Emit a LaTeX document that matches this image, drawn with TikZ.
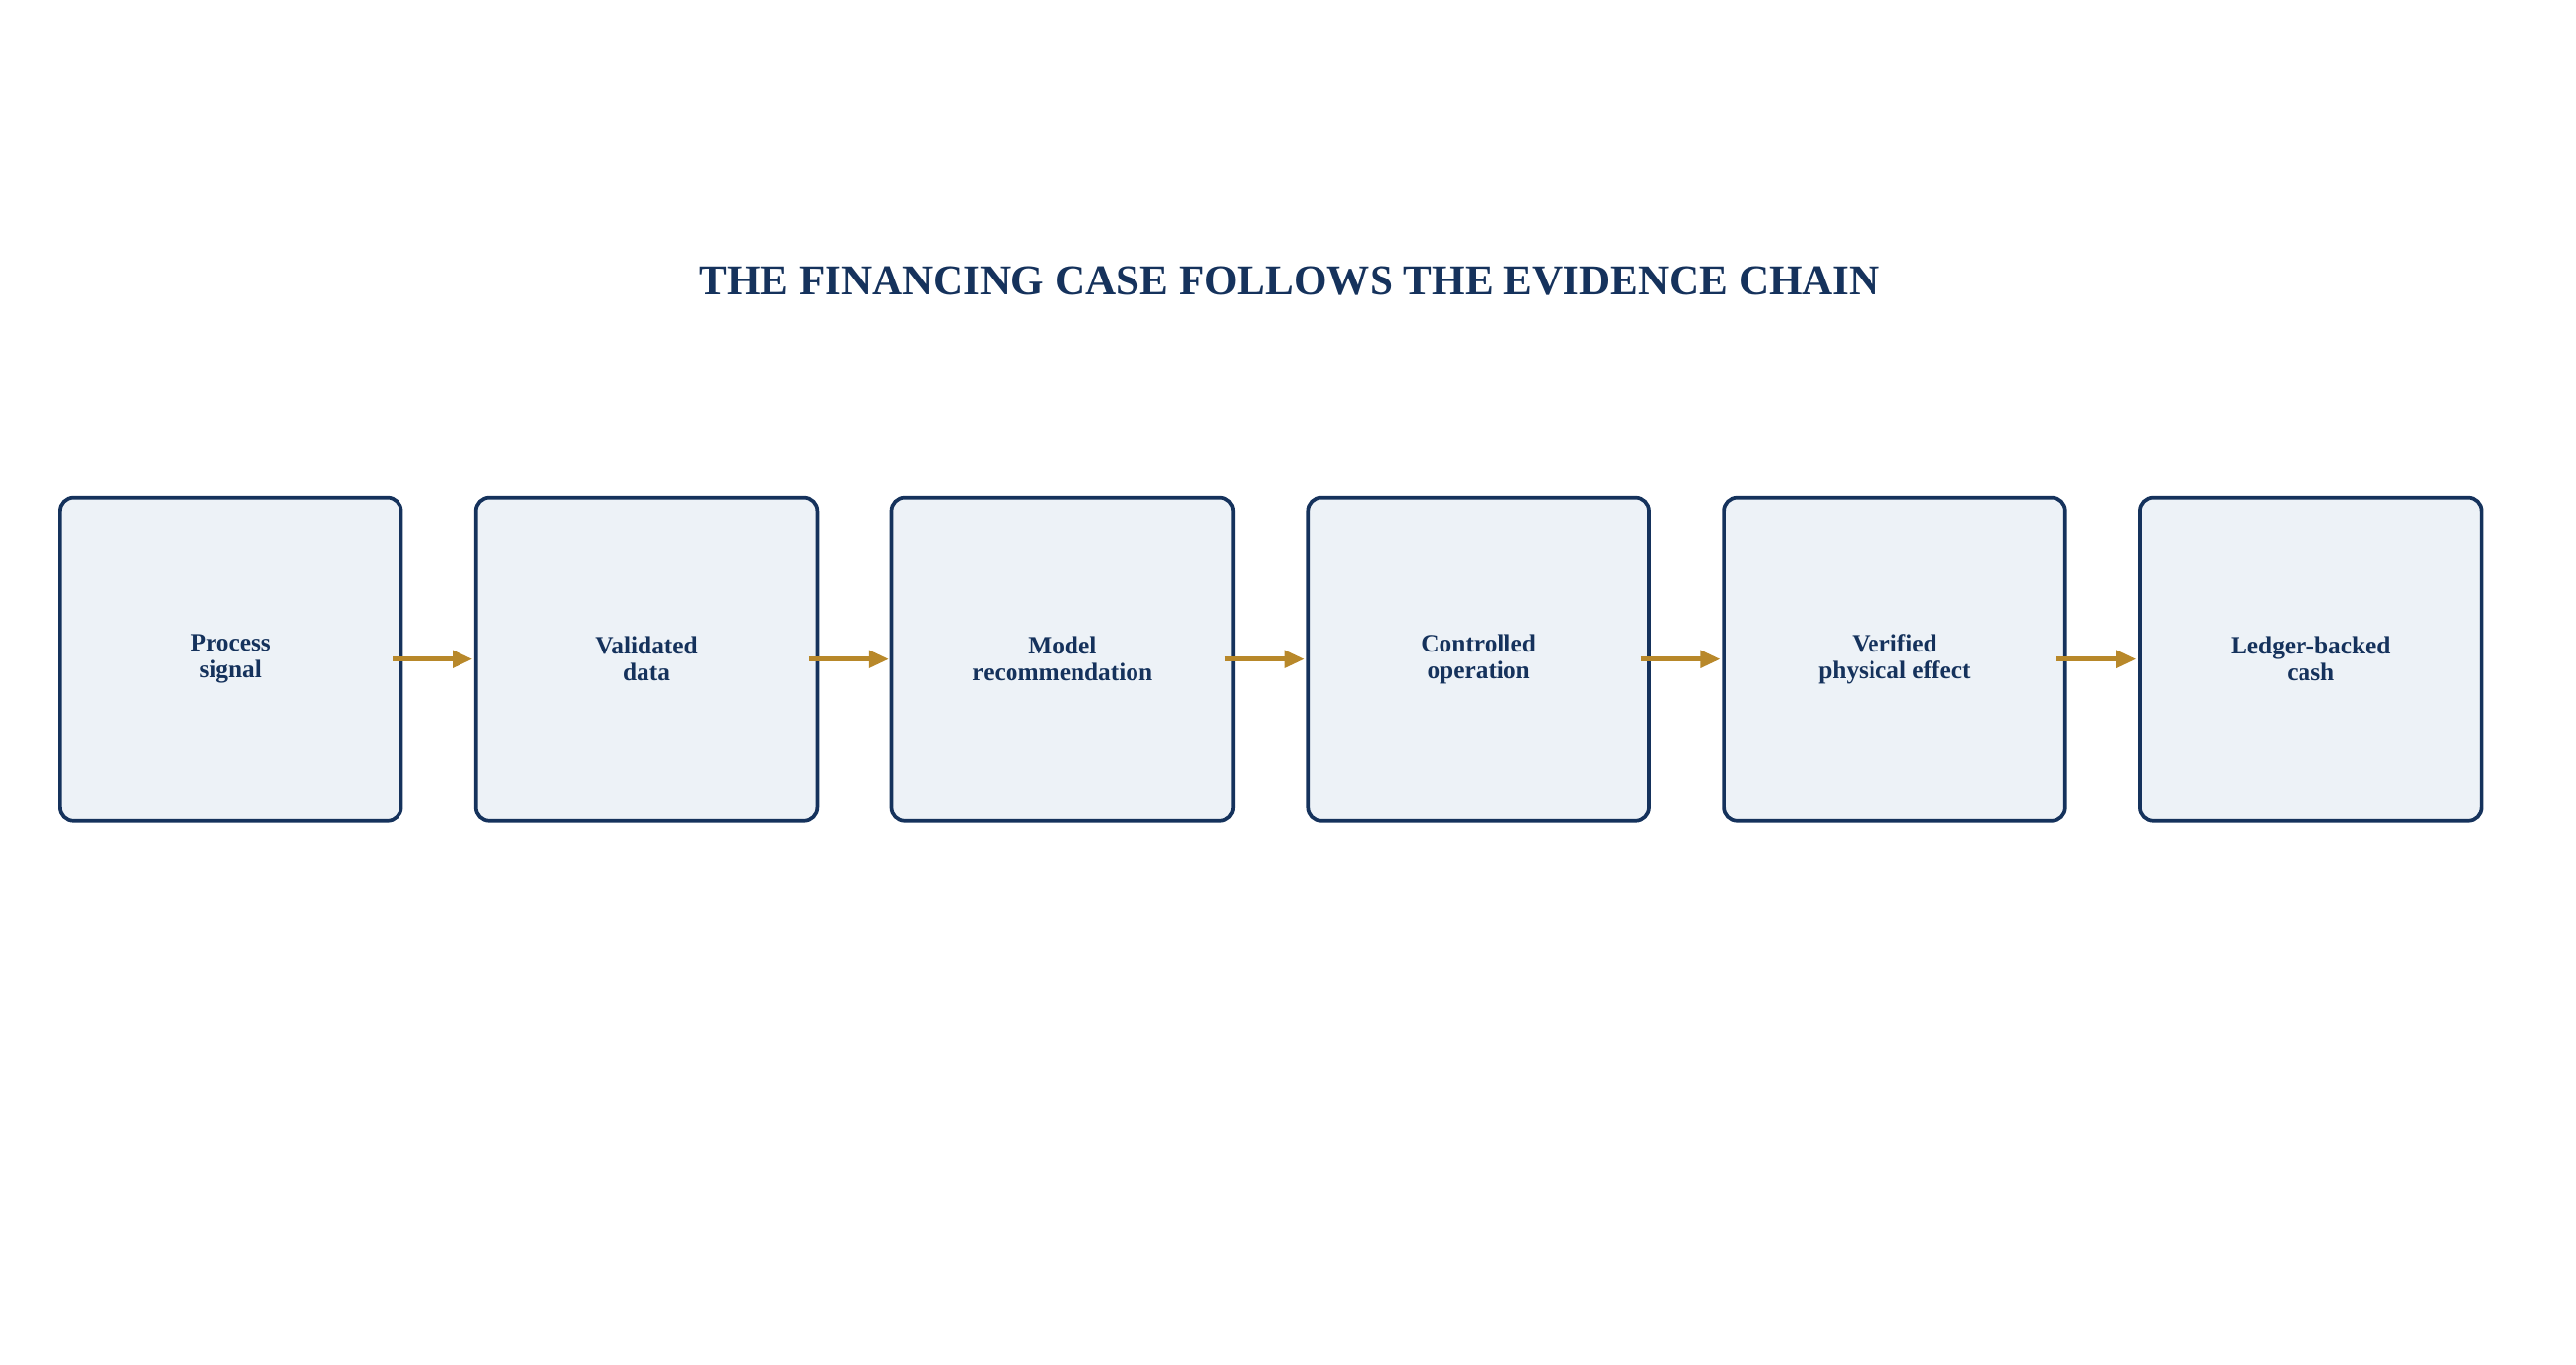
\documentclass[tikz,border=0pt]{standalone}
\usepackage{fontspec}
\setmainfont{Liberation Serif}
\usetikzlibrary{positioning,arrows.meta}
\definecolor{navy}{HTML}{15325C}
\definecolor{boxfill}{HTML}{EDF2F7}
\definecolor{gold}{HTML}{B8882A}
\begin{document}
\begin{tikzpicture}[x=1pt,y=1pt,node distance=45pt,
    stage/.style={draw=navy,fill=boxfill,line width=2.2pt,rounded corners=8pt,
      minimum width=205pt,minimum height=194pt,align=center,outer sep=0pt,
      font=\fontsize{15}{16}\selectfont\bfseries,text=navy},
    flow/.style={-{Triangle[length=12pt,width=10pt]},draw=gold,line width=3pt,
      shorten <=-5pt,shorten >=2pt}]
  \useasboundingbox (0,0) rectangle (1548,820);
  \node[font=\fontsize{25.5}{28}\selectfont\bfseries,text=navy] (title) at (775,651)
    {THE FINANCING CASE FOLLOWS THE EVIDENCE CHAIN};

  \node[stage] (S1) at (138.5,424) {Process\\signal};
  \node[stage] (S2) [right=of S1] {Validated\\data};
  \node[stage] (S3) [right=of S2] {Model\\recommendation};
  \node[stage] (S4) [right=of S3] {Controlled\\operation};
  \node[stage] (S5) [right=of S4] {Verified\\physical effect};
  \node[stage] (S6) [right=of S5] {Ledger-backed\\cash};

  \foreach \a/\b in {S1/S2,S2/S3,S3/S4,S4/S5,S5/S6}
    \draw[flow] (\a.east) -- (\b.west);
\end{tikzpicture}
\end{document}
